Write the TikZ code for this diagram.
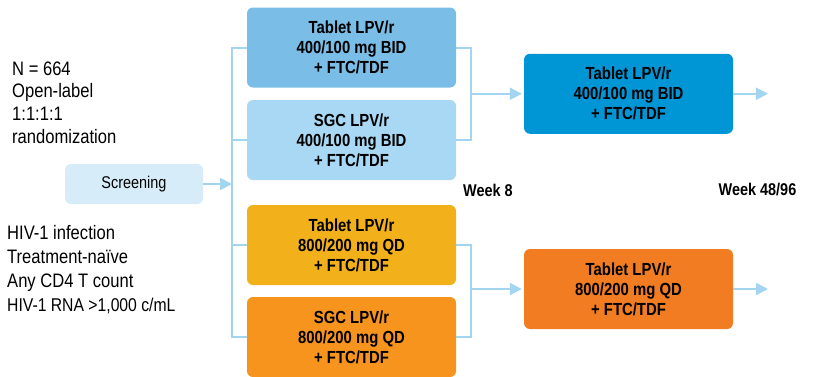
\documentclass[tikz,border=0pt]{standalone}
\usepackage{fontspec}
\setmainfont{Liberation Sans}[FakeStretch=0.85]
\usetikzlibrary{arrows.meta}

\definecolor{screencolor}{RGB}{214,236,249}
\definecolor{linkcolor}{RGB}{163,213,240}
\definecolor{arm1color}{RGB}{122,189,230}
\definecolor{arm2color}{RGB}{168,216,243}
\definecolor{arm3color}{RGB}{242,176,26}
\definecolor{arm4color}{RGB}{247,148,29}
\definecolor{final1color}{RGB}{0,150,214}
\definecolor{final2color}{RGB}{241,124,33}

\tikzset{
  armbox/.style={rounded corners=6pt, minimum width=209pt, minimum height=80pt,
    inner sep=0pt, align=center, font=\fontsize{17.5}{20}\selectfont\bfseries},
  infotext/.style={anchor=base west, inner sep=0pt, font=\fontsize{19.5}{23}\selectfont},
  weektext/.style={font=\fontsize{17}{20}\selectfont\bfseries},
  link/.style={draw=linkcolor, line width=2pt},
  flow/.style={link, -{Triangle[length=12pt,width=12pt]}},
}

\newcommand{\arm}[5]{%
  \node[armbox, fill=#4] (#1) at (#2,#3) {#5};
}

\begin{document}
\begin{tikzpicture}[x=1pt, y=-1pt]
    \useasboundingbox (0,0) rectangle (814,376);
    % Study info
    \foreach \t [count=\i] in {N = 664, Open-label, 1:1:1:1, randomization}
      \node[infotext] (design\i) at (12, 75+22.7*\i-22.7) {\t};
    \foreach \t [count=\i] in {HIV-1 infection, Treatment-naïve, Any CD4 T count}
      \node[infotext] (entry\i) at (7, 239+24*\i-24) {\t};
    \node[infotext, font=\fontsize{18.5}{23}\selectfont] (entry4) at (7,311) {HIV-1 RNA >1,000 c/mL};
    % Screening
    \node[fill=screencolor, rounded corners=6pt, minimum width=138pt, minimum height=40pt,
      font=\fontsize{17}{20}\selectfont] (screen) at (134,184) {Screening};
    % Arms (name, x, y, color, label)
    \arm{tab400}{351.5}{47.5}{arm1color}{Tablet LPV/r\\400/100 mg BID\\+ FTC/TDF}
    \arm{sgc400}{351.5}{140}{arm2color}{SGC LPV/r\\400/100 mg BID\\+ FTC/TDF}
    \arm{tab800}{351.5}{245}{arm3color}{Tablet LPV/r\\800/200 mg QD\\+ FTC/TDF}
    \arm{sgc800}{351.5}{337}{arm4color}{SGC LPV/r\\800/200 mg QD\\+ FTC/TDF}
    \arm{fin400}{628.5}{93.75}{final1color}{Tablet LPV/r\\400/100 mg BID\\+ FTC/TDF}
    \arm{fin800}{628.5}{289}{final2color}{Tablet LPV/r\\800/200 mg QD\\+ FTC/TDF}
    % Weeks
    \node[weektext] (week8) at (488,190) {Week 8};
    \node[weektext] (week48) at (757.5,190) {Week 48/96};
    % Randomization split
    \coordinate (splitT) at (232,47.5);
    \coordinate (splitB) at (232,337);
    \draw[link] (tab400.west) -- (splitT) -- (splitB) -- (sgc800.west);
    \draw[link] (sgc400.west) -- (sgc400.west -| splitT);
    \draw[link] (tab800.west) -- (tab800.west -| splitT);
    \draw[flow] (screen.east) -- (screen.east -| splitT);
    % Week 8 joins
    \coordinate (joinT) at (471,93.75);
    \coordinate (joinB) at (471,289);
    \draw[link] (tab400.east) -| (joinT) |- (sgc400.east);
    \draw[link] (tab800.east) -| (joinB) |- (sgc800.east);
    \draw[flow, shorten >=2pt] (joinT) -- (fin400.west);
    \draw[flow, shorten >=2pt] (joinB) -- (fin800.west);
    % Onward
    \coordinate (end400) at (768,93.75);
    \coordinate (end800) at (768,289);
    \draw[flow] (fin400.east) -- (end400);
    \draw[flow] (fin800.east) -- (end800);
  \end{tikzpicture}
\end{document}
